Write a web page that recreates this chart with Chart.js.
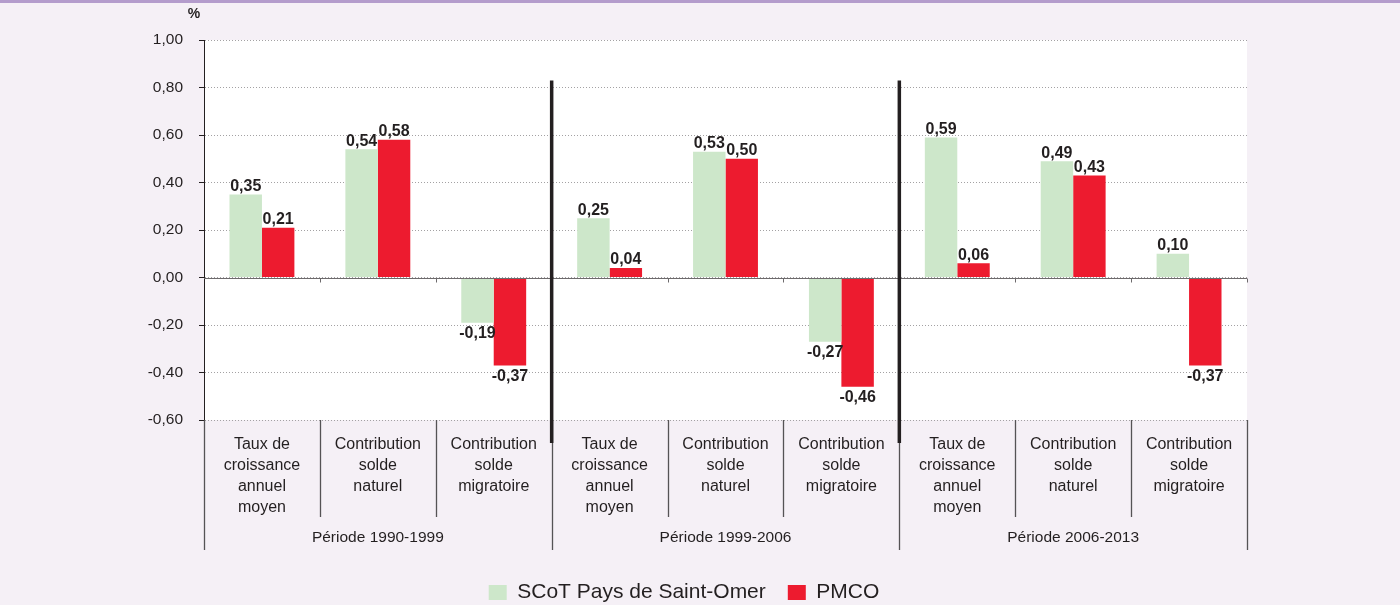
<!DOCTYPE html>
<html lang="fr">
<head>
<meta charset="utf-8">
<title>Taux de croissance</title>
<script src="https://cdn.jsdelivr.net/npm/chart.js@4"></script>
<style>
  html, body { margin: 0; padding: 0; background: #f5f0f6; }
  #cadre { position: absolute; left: 0; top: 0; width: 1400px; height: 605px; }
</style>
</head>
<body>
<div id="cadre"><canvas id="myChart"></canvas></div>
<script>
// données
const periodes = ["Période 1990-1999", "Période 1999-2006", "Période 2006-2013"];
const indicateurs = [
    ["Taux de", "croissance", "annuel", "moyen"],
    ["Contribution", "solde", "naturel"],
    ["Contribution", "solde", "migratoire"]
];
const scotValeurs = [0.35, 0.54, -0.19, 0.25, 0.53, -0.27, 0.59, 0.49, 0.10];
const pmcoValeurs = [0.21, 0.58, -0.37, 0.04, 0.50, -0.46, 0.06, 0.43, -0.37];
const yTicks = [1.0, 0.8, 0.6, 0.4, 0.2, 0.0, -0.2, -0.4, -0.6];

const categories = [];
periodes.forEach(() => indicateurs.forEach((ind) => categories.push(ind)));

const police = '"Liberation Sans", Arial, sans-serif';
const texte = "#231f20";

function virgule(v) {
    return v.toFixed(2).replace(".", ",");
}

const decor = {
    id: "decor",
    beforeDraw(chart) {
        const ctx = chart.ctx;
        const a = chart.chartArea;
        ctx.save();
        ctx.fillStyle = "#f5f0f6";
        ctx.fillRect(0, 0, chart.width, chart.height);
        ctx.fillStyle = "#b49ccc";
        ctx.fillRect(0, 0, chart.width, 3);
        ctx.fillStyle = "#ffffff";
        ctx.fillRect(a.left, a.top, a.right - a.left, a.bottom - a.top);
        ctx.restore();
    },
    afterDatasetsDraw(chart) {
        const ctx = chart.ctx;
        const a = chart.chartArea;
        const x = chart.scales.x;
        const y = chart.scales.y;
        const n = categories.length;
        const nInd = indicateurs.length;
        const bord = (i) => {
            if (i <= 0) return a.left;
            if (i >= n) return a.right;
            return (x.getPixelForValue(i - 1) + x.getPixelForValue(i)) / 2;
        };
        ctx.save();

        // ligne du zéro
        const y0 = Math.round(y.getPixelForValue(0)) + 0.5;
        ctx.strokeStyle = "#6d6a6c";
        ctx.lineWidth = 1;
        ctx.beginPath();
        ctx.moveTo(a.left, y0);
        ctx.lineTo(a.right, y0);
        for (let i = 1; i <= n; i++) {
            const bx = Math.round(bord(i)) + 0.5;
            ctx.moveTo(bx, y0);
            ctx.lineTo(bx, y0 + 4);
        }
        ctx.stroke();

        // séparateurs sous l'axe
        ctx.strokeStyle = "#555355";
        ctx.lineWidth = 1.3;
        ctx.beginPath();
        for (let i = 0; i <= n; i++) {
            const bx = Math.round(bord(i)) + 0.5;
            const fin = (i % nInd === 0) ? a.bottom + 130 : a.bottom + 97;
            ctx.moveTo(bx, a.bottom);
            ctx.lineTo(bx, fin);
        }
        ctx.stroke();

        // traits épais entre périodes
        ctx.strokeStyle = texte;
        ctx.lineWidth = 3.5;
        ctx.beginPath();
        for (let p = 1; p < periodes.length; p++) {
            const bx = bord(p * nInd);
            ctx.moveTo(bx, y.getPixelForValue(0.83));
            ctx.lineTo(bx, a.bottom + 23);
        }
        ctx.stroke();

        // libellés des périodes
        ctx.fillStyle = texte;
        ctx.font = "15.5px " + police;
        ctx.textAlign = "center";
        ctx.textBaseline = "middle";
        periodes.forEach((p, k) => {
            const cx = (bord(k * nInd) + bord((k + 1) * nInd)) / 2;
            ctx.fillText(p, cx, a.bottom + 118);
        });

        // valeurs sur les barres
        ctx.font = "bold 16px " + police;
        chart.data.datasets.forEach((ds, d) => {
            const meta = chart.getDatasetMeta(d);
            meta.data.forEach((bar, i) => {
                const v = ds.data[i];
                if (v >= 0) {
                    ctx.textBaseline = "bottom";
                    ctx.fillText(virgule(v), bar.x, bar.y);
                } else {
                    ctx.textBaseline = "top";
                    ctx.fillText(virgule(v), bar.x, bar.y + 3);
                }
            });
        });

        // unité
        ctx.font = "bold 14px " + police;
        ctx.textBaseline = "middle";
        ctx.fillText("%", a.left - 10, 14);
        ctx.restore();
    }
};

const config = {
    type: "bar",
    data: {
        labels: categories,
        datasets: [
            {
                label: "SCoT Pays de Saint-Omer",
                data: scotValeurs,
                backgroundColor: "#cde7ca",
                categoryPercentage: 0.56,
                barPercentage: 1
            },
            {
                label: "PMCO",
                data: pmcoValeurs,
                backgroundColor: "#ed1b2f",
                categoryPercentage: 0.56,
                barPercentage: 1
            }
        ]
    },
    options: {
        responsive: true,
        maintainAspectRatio: false,
        animation: false,
        layout: { padding: { left: 121, right: 153, top: 40, bottom: -8 } },
        plugins: {
            tooltip: { enabled: false },
            legend: {
                position: "bottom",
                labels: {
                    color: texte,
                    font: { family: police, size: 21 },
                    boxWidth: 18,
                    boxHeight: 15,
                    padding: 22
                }
            }
        },
        scales: {
            x: {
                grid: { display: false, drawTicks: false },
                border: { display: false },
                ticks: {
                    color: texte,
                    font: { family: police, size: 16, lineHeight: 21 / 16 },
                    padding: 14,
                    maxRotation: 0,
                    autoSkip: false
                },
                afterFit(scale) { scale.height = 140; }
            },
            y: {
                min: -0.6,
                max: 1,
                afterBuildTicks(scale) {
                    scale.ticks = yTicks.map((v) => ({ value: v }));
                },
                grid: {
                    color: "#a3a1a3",
                    tickColor: texte,
                    tickLength: 5,
                    lineWidth: 1
                },
                border: { color: texte, width: 1, dash: [1, 2] },
                ticks: {
                    color: texte,
                    font: { family: police, size: 15.5 },
                    padding: 16,
                    callback: (v) => virgule(v)
                },
                afterFit(scale) { scale.width = 83; }
            }
        }
    },
    plugins: [decor]
};

const myChart = document.querySelector("#myChart");
const chart = new Chart(myChart, config);
</script>
</body>
</html>
